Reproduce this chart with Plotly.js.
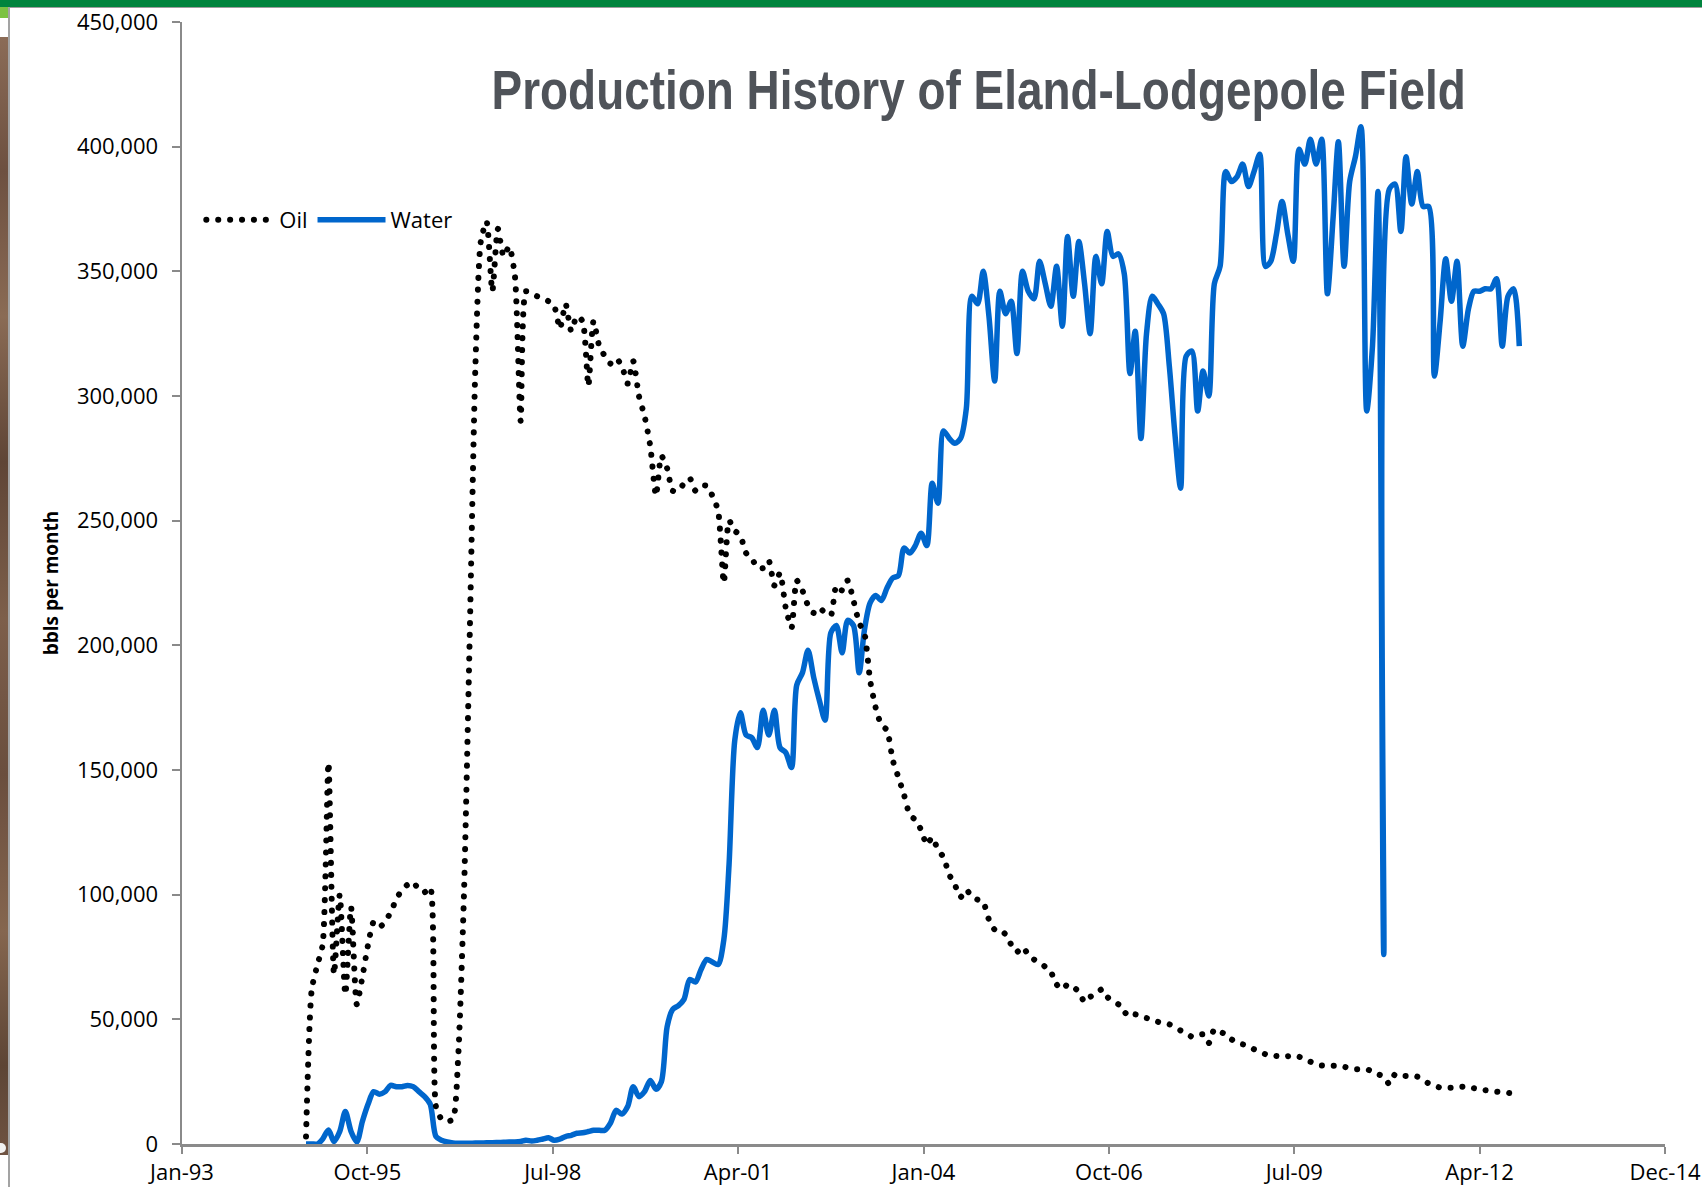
<!DOCTYPE html>
<html>
<head>
<meta charset="utf-8">
<script src="https://cdn.plot.ly/plotly-3.0.1.min.js"></script>
<style>
html,body{margin:0;padding:0;background:#fff;}
#wrap{position:relative;width:1702px;height:1187px;overflow:hidden;background:#fff;}
#chart{position:absolute;left:0;top:0;width:1702px;height:1187px;}
.deco{position:absolute;pointer-events:none;}
path.js-line[style*="dasharray"], .legendlines path[style*="dasharray"]{stroke-linecap:round !important;}
</style>
</head>
<body>
<div id="wrap">
  <div id="chart"></div>
  <div class="deco" style="left:0;top:0;width:1702px;height:7px;background:#00843d;"></div>
  <div class="deco" style="left:8px;top:7px;width:1694px;height:1px;background:#9c9c9c;"></div>
  <div class="deco" style="left:0;top:7px;width:8px;height:11px;background:#7cc242;"></div>
  <div class="deco" style="left:0;top:37px;width:8px;height:1118px;background:linear-gradient(to bottom,#8b6c57 0%,#6d5040 12%,#8a6b55 25%,#5f4536 38%,#7d5f4b 52%,#6a4e3e 66%,#85664f 80%,#5d4535 92%,#6f5342 100%);"></div>
  <div class="deco" style="left:0;top:1143px;width:6px;height:10px;background:#f2f2f2;border-radius:0 5px 5px 0;"></div>
  <div class="deco" style="left:8px;top:7px;width:2px;height:1180px;background:#a3a3a3;"></div>
</div>
<script>
// ---- data (monthly, starting Dec 1994) ----
const startMonth = '1994-12';

const oil = [
  3000,62000,72000,80000,153000,68000,100000,60000,95000,56000,
  67000,80000,89000,87000,89000,93000,98000,102000,104000,105000,
  102000,101000,103000,15000,10000,9000,10000,35000,100000,200000,
  310000,362000,370000,342000,367000,356000,360000,348000,290000,342000,
  341000,340000,339000,338000,336000,327000,337000,326000,332000,330000,
  304000,330000,320000,316000,313000,315000,312000,305000,314000,300000,
  292000,280000,260000,276000,271000,262000,262000,265000,267000,262000,
  264000,264000,260000,254000,225000,250000,246000,244000,237000,235000,
  231000,231000,234000,224000,229000,215000,207000,226000,222000,216000,
  213000,215000,213000,212000,224000,222000,226000,218000,209000,205000,
  186000,175000,168000,166000,154000,147000,140000,132000,130000,126000,
  120000,123000,118000,115000,108000,104000,99000,102000,99000,98000,
  97000,90000,86000,86000,84000,80000,77000,79000,76000,74000,
  73000,71000,69000,64000,62000,64000,63000,61000,57000,59000,
  60000,62000,59000,57000,56000,53000,51000,52000,51000,50500,
  50000,49000,48500,48000,47000,45500,44500,43000,43500,44000,
  40500,46000,45000,44000,42000,40500,40000,39500,38000,37000,
  36000,35700,35300,35000,35200,35500,35000,34000,33000,32000,
  31500,31400,31400,31400,31000,30300,30000,30000,30000,29000,
  28000,27000,24000,28000,27500,27300,27200,27000,25500,24300,
  23500,22600,22600,22600,22800,23000,22700,22400,22000,21600,
  21300,21000,20800,20500,20200,19800
];

const water = [
  0,0,0,2000,5600,1000,5000,13000,5000,800,
  9000,16000,21000,20000,21000,23500,23000,23000,23500,23000,
  21000,19000,16000,3000,1500,800,400,300,300,300,
  400,400,500,500,600,700,800,800,1000,1500,
  1200,1500,2000,2500,1500,2000,3000,3500,4300,4500,
  5000,5500,5500,5500,8500,13500,12000,15000,23000,19000,
  21000,25500,22000,25000,47000,54000,55500,58000,66000,65000,
  70000,74000,73000,72000,82000,112000,162000,173000,164000,163000,
  159000,174000,164000,174000,159000,157000,151000,184000,189000,198000,
  187000,178000,170000,205000,208000,197000,210000,208000,189000,206000,
  217000,220000,218000,223000,227000,228000,239000,237000,240000,245000,
  240000,265000,257000,286000,283000,281000,283000,295000,340000,337000,
  350000,332000,306000,342000,333000,338000,317000,350000,342000,339000,
  354000,345000,336000,352000,328000,364000,340000,362000,345000,325000,
  356000,345000,366000,356000,357000,349000,309000,326000,283000,325000,
  340000,337000,333000,312000,285000,263000,316000,318000,294000,310000,
  300000,345000,352000,390000,386000,388000,393000,384000,390000,397000,
  352000,354000,365000,378000,365000,354000,399000,393000,403000,393000,
  403000,341000,372000,402000,352000,386000,396000,408000,294000,320000,
  382000,76000,383000,385000,366000,396000,377000,390000,376000,376000,
  308000,330000,355000,338000,354000,320000,335000,342000,342000,343000,
  343000,347000,320000,340000,343000,320000
];

const tickDates  = ['1993-01-31','1995-10-28','1998-07-24','2001-04-19','2004-01-14','2006-10-10','2009-07-06','2012-04-01','2014-12-27'];
const tickLabels = ['Jan-93','Oct-95','Jul-98','Apr-01','Jan-04','Oct-06','Jul-09','Apr-12','Dec-14'];
const yTickVals  = [0,50000,100000,150000,200000,250000,300000,350000,400000,450000];

function monthSeq(start, n){
  const parts = start.split('-').map(Number);
  const out = [];
  for(let i=0;i<n;i++){
    const t = (parts[1]-1)+i;
    const yy = parts[0]+Math.floor(t/12);
    const mm = (t%12)+1;
    out.push(yy+'-'+String(mm).padStart(2,'0')+'-01');
  }
  return out;
}
const months = monthSeq(startMonth, oil.length);

const traces = [
  {x:months, y:water, name:'Water', type:'scatter', mode:'lines',
   line:{color:'#0066cc', width:5.5, shape:'spline', smoothing:0.8}},
  {x:months, y:oil, name:'Oil', type:'scatter', mode:'lines',
   line:{color:'#000000', width:6, dash:'0.1px,11.8px', shape:'spline', smoothing:0.6}}
];

const axisGray = '#8a8a8a';
const layout = {
  width:1702, height:1187,
  margin:{l:182, r:37, t:22, b:43, pad:0},
  paper_bgcolor:'#ffffff', plot_bgcolor:'#ffffff',
  font:{family:'"Open Sans", sans-serif', size:22, color:'#000'},
  showlegend:true,
  title:{
    text:'Production History of Eland-Lodgepole Field',
    font:{family:'"Liberation Sans", Arial, sans-serif', size:56, color:'#4f5359', weight:'bold'},
    xref:'container', x:0.575, xanchor:'center',
    yref:'container', y:0.925, yanchor:'middle'
  },
  xaxis:{
    type:'date', range:[tickDates[0], tickDates[tickDates.length-1]],
    tickmode:'array', tickvals:tickDates, ticktext:tickLabels,
    showgrid:false, zeroline:false,
    showline:true, linecolor:axisGray, linewidth:2.5,
    ticks:'outside', ticklen:7, tickwidth:2, tickcolor:axisGray,
    tickfont:{size:22, color:'#000'}
  },
  yaxis:{
    range:[0,450000], tickmode:'array', tickvals:yTickVals, tickformat:',d',
    showgrid:false, zeroline:false,
    showline:true, linecolor:axisGray, linewidth:2.5,
    ticks:'outside', ticklen:8, tickwidth:2, tickcolor:axisGray,
    ticklabelstandoff:9,
    tickfont:{size:22, color:'#000'},
    title:{text:'bbls per month', font:{size:19, weight:'bold', color:'#000'}, standoff:14}
  },
  legend:{
    orientation:'h', traceorder:'reversed',
    x:0.013, xanchor:'left', y:0.8235, yanchor:'middle',
    font:{size:22, color:'#000'}, itemwidth:68,
    bgcolor:'rgba(0,0,0,0)', borderwidth:0
  }
};

const titleScaleX = 0.82;
Plotly.newPlot('chart', traces, layout, {displayModeBar:false, staticPlot:true}).then(function(gd){
  const t = gd.querySelector('text.gtitle');
  if(t){
    const bb = t.getBBox();
    const cx = bb.x + bb.width/2;
    const prev = t.getAttribute('transform') || '';
    t.setAttribute('transform', 'translate(' + (cx*(1-titleScaleX)) + ',0) scale(' + titleScaleX + ',1) ' + prev);
  }
});
</script>
</body>
</html>
